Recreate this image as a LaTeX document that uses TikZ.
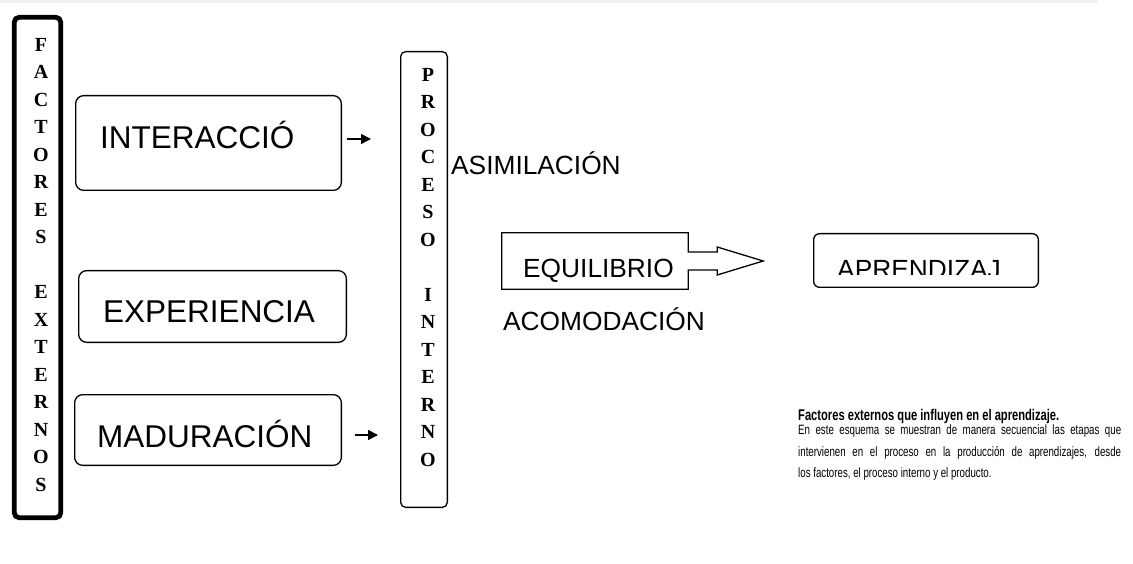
\documentclass[tikz,border=0pt]{standalone}
\usepackage{fontspec}
\setmainfont{Liberation Sans}
\newfontfamily\serifb{Liberation Serif}
\newfontfamily\narrow[FakeStretch=0.72]{Liberation Sans}
\usetikzlibrary{arrows.meta,calc}
\tikzset{
  rbox/.style={draw, line width=1.3pt, rounded corners=8pt, inner sep=0pt},
  lbl/.style={font=\fontsize{31.5}{36}\selectfont, inner sep=0pt, anchor=base west},
  mid/.style={font=\fontsize{26.3}{30}\selectfont, inner sep=0pt, anchor=base west},
  stack/.style={font=\serifb\bfseries\fontsize{20}{27.5}\selectfont, align=center, inner sep=0pt},
  arr/.style={line width=1.5pt, -{Triangle[length=10pt,width=10pt]}},
  thinline/.style={line width=1.3pt}
}
\begin{document}
\begin{tikzpicture}[x=1pt,y=-1pt]
\useasboundingbox (0,0) rectangle (1133,564);
\fill[black!5] (0,0) rectangle (1098,3);

% left column
\node[draw, line width=4.8pt, rounded corners=5pt, minimum width=46.5pt, minimum height=500.5pt, inner sep=0pt] (fe) at (37.5,267.5) {};
\node[stack] (fet) at (41,265) {F\\A\\C\\T\\O\\R\\E\\S\\[27.5pt]E\\X\\T\\E\\R\\N\\O\\S};

% factor boxes
\node[rbox, minimum width=265.7pt, minimum height=94.7pt] (inter) at (208.5,143) {};
\node[lbl] (intert) at (100,149) {INTERACCIÓ};
\node[rbox, minimum width=267.7pt, minimum height=71.7pt] (exper) at (212.5,306.5) {};
\node[lbl] (expert) at (103,323) {EXPERIENCIA};
\node[rbox, minimum width=266.7pt, minimum height=70.7pt] (madur) at (208,430) {};
\node[lbl] (madurt) at (97,447) {MADURACIÓN};

% process box
\node[rbox, rounded corners=5pt, minimum width=46.7pt, minimum height=455.7pt] (proc) at (424,279.5) {};
\node[stack] (proct) at (428,267.5) {P\\R\\O\\C\\E\\S\\O\\[27.5pt]I\\N\\T\\E\\R\\N\\O};

% arrows
\draw[arr] ($(inter.east)+(5,-4)$) -- ($(proc.west |- inter.east)+(-29,-4)$);
\draw[arr] ($(madur.east)+(13,5)$) -- ($(proc.west |- madur.east)+(-22,5)$);

% internal process
\node[mid] (asim) at (451,175) {ASIMILACIÓN};
\node[minimum width=186pt, minimum height=56pt, inner sep=0pt] (eqb) at (595,261) {};
\draw[thinline] ($(eqb.east)+(0,-9)$) -- (eqb.north east) -- (eqb.north west) -- (eqb.south west) -- (eqb.south east) -- ($(eqb.east)+(0,9)$) -- ++(29,0) -- ++(0,5) -- ($(eqb.east)+(75,0)$) -- ++(-46,-14) -- ++(0,5) -- cycle;
\node[mid] (equil) at (523,278) {EQUILIBRIO};
\node[mid] (acom) at (503,330) {ACOMODACIÓN};

% product
\node[rbox, rounded corners=6pt, minimum width=224.7pt, minimum height=53.7pt] (apren) at (926,260.5) {};
\begin{scope}
\clip (813,233) rectangle (1039,275);
\node[mid] (aprt) at (837,279) {APRENDIZAJ};
\end{scope}

% caption
\node[anchor=base west, inner sep=0pt, font=\narrow\bfseries\fontsize{15.5}{18}\selectfont] (cap) at (798,420) {Factores externos que influyen en el aprendizaje.};
\node[anchor=north west, inner sep=0pt, align=left, font=\narrow\fontsize{13.5}{21.5}\selectfont] (par) at (798,425) {\makebox[323pt][s]{En este esquema se muestran de manera secuencial las etapas que}\\\makebox[323pt][s]{intervienen en el proceso en la producción de aprendizajes, desde}\\los factores, el proceso interno y el producto.};
\end{tikzpicture}
\end{document}
